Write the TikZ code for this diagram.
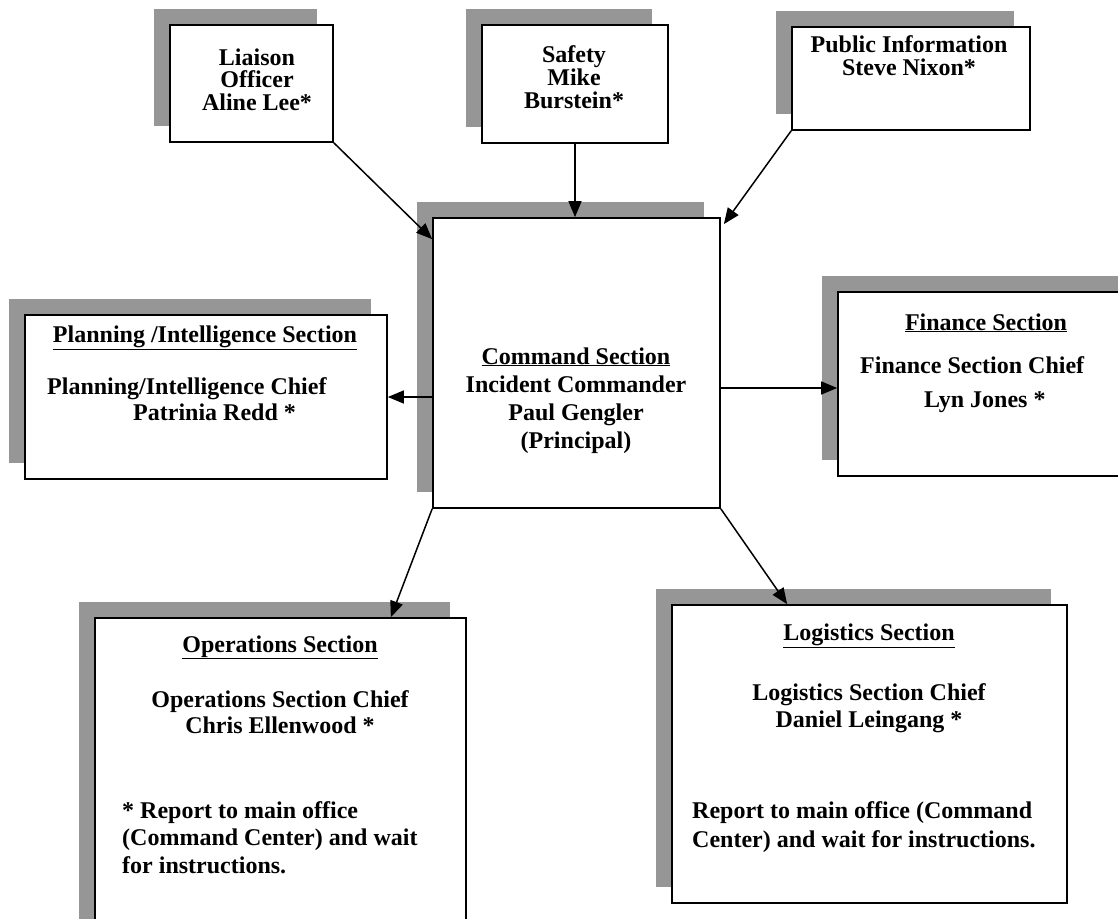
\documentclass[tikz,border=0pt]{standalone}
\usepackage{fontspec}
\setmainfont{Liberation Serif}
\usetikzlibrary{arrows.meta,shadows}
\definecolor{shade}{RGB}{150,150,150}

\tikzset{
  secbox/.style={draw=black,line width=1.7pt,fill=white,inner sep=0pt,
    general shadow={fill=shade,shadow xshift=-16pt,shadow yshift=16pt}},
  txt/.style={font=\fontsize{24}{#1}\selectfont\bfseries,align=center,
    inner sep=0pt,anchor=base},
  txt/.default=23,
  arr/.style={line width=1.5pt,-{Triangle[length=16pt,width=13pt]}},
}

\begin{document}
\begin{tikzpicture}[x=1pt,y=-1pt]
  \useasboundingbox (0,0) rectangle (1118,918);
  \clip (0,0) rectangle (1118,918);

  % staff boxes along the top (base = last line)
  \node[secbox,minimum width=163pt,minimum height=117pt] (liaison) at (251.5,83.5) {};
  \node[secbox,minimum width=186pt,minimum height=118pt] (safety) at (575,84) {};
  \node[secbox,minimum width=238pt,minimum height=103pt] (public) at (911,78.5) {};
  \node[txt=22.5] (liaisontxt) at (257,110) {Liaison\\Officer\\Aline Lee*};
  \node[txt] (safetytxt) at (574,108) {Safety\\Mike\\Burstein*};
  \node[txt] (publictxt) at (909,75) {Public Information\\Steve Nixon*};

  % command section
  \node[secbox,minimum width=287pt,minimum height=290pt] (command) at (576.5,363) {};
  \node[txt=28] (commandtxt) at (576,448)
    {\underline{Command Section}\\Incident Commander\\Paul Gengler\\(Principal)};

  % planning and finance
  \node[secbox,minimum width=362pt,minimum height=164pt] (planning) at (206,397) {};
  \node[txt] (planningtitle) at (205,342) {\underline{Planning /Intelligence Section}};
  \node[txt,anchor=base west] (planningchief) at (47,394) {Planning/Intelligence Chief};
  \node[txt,anchor=base west] (planningname) at (133,420) {Patrinia Redd *};

  \node[secbox,minimum width=302pt,minimum height=184pt] (finance) at (989,384) {};
  \node[txt] (financetitle) at (986,330) {\underline{Finance Section}};
  \node[txt,anchor=base west] (financechief) at (860,373) {Finance Section Chief};
  \node[txt,anchor=base west] (financename) at (924,407) {Lyn Jones *};

  % operations and logistics
  \node[secbox,minimum width=371pt,minimum height=322pt] (operations) at (280.5,779) {};
  \node[txt] (operationstitle) at (280,652) {\underline{Operations Section}};
  \node[txt=26] (operationschief) at (280,733) {Operations Section Chief\\Chris Ellenwood *};
  \node[txt=27.5,align=left,anchor=base west] (operationsnote) at (122,873)
    {* Report to main office\\(Command Center) and wait\\for instructions.};

  \node[secbox,minimum width=395pt,minimum height=298pt] (logistics) at (869.5,754) {};
  \node[txt] (logisticstitle) at (869,640) {\underline{Logistics Section}};
  \node[txt=27] (logisticschief) at (869,727) {Logistics Section Chief\\Daniel Leingang *};
  \node[txt=29,align=left,anchor=base west] (logisticsnote) at (692,847)
    {Report to main office (Command\\Center) and wait for instructions.};

  % connectors
  \draw[arr] (liaison.south east) -- ([yshift=-22pt]command.north west);
  \draw[arr] (safety.south) -- (safety.south |- command.north);
  \draw[arr] (public.south west) -- ([xshift=3pt,yshift=-7pt]command.north east);
  \coordinate (cmdL) at ([yshift=-34pt]command.west);
  \coordinate (cmdR) at ([yshift=-25pt]command.east);
  \draw[arr] (cmdL) -- (cmdL -| planning.east);
  \draw[arr] (cmdR) -- (cmdR -| finance.west);
  \draw[arr] (command.south west) -- ([xshift=-76pt]operations.north east);
  \draw[arr] (command.south east) -- ([xshift=116pt]logistics.north west);
\end{tikzpicture}
\end{document}
